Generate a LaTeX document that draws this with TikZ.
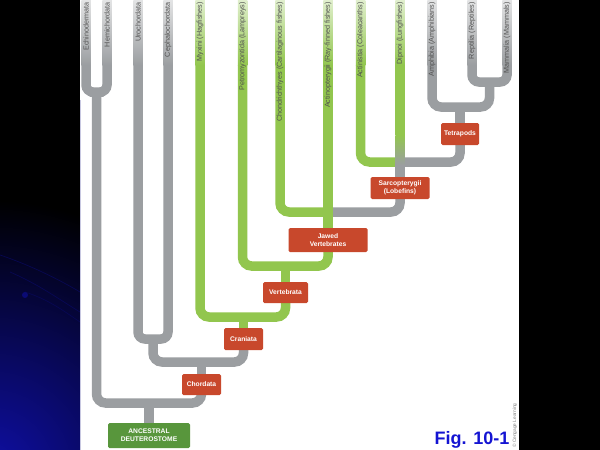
\documentclass[tikz,border=0pt]{standalone}
\usepackage{fontspec}
\setmainfont{Liberation Sans}
\usetikzlibrary{calc}
\pgfdeclarelayer{back}
\pgfdeclarelayer{bg}
\pgfsetlayers{back,bg,main}
\definecolor{barGray}{RGB}{155,158,161}
\definecolor{barGreen}{RGB}{146,198,78}
\definecolor{boxRed}{RGB}{200,72,44}
\definecolor{ancGreen}{RGB}{88,150,60}
\definecolor{labText}{RGB}{80,80,80}
\definecolor{figBlue}{RGB}{20,20,210}
\definecolor{deepBlue}{RGB}{15,15,165}
\definecolor{edgeLav}{RGB}{200,200,225}
\tikzset{
  tip/.style={minimum width=9.5pt, minimum height=65pt, inner sep=0pt, anchor=north, draw=none},
  grayTip/.style={tip, top color=barGray!28!white, bottom color=barGray},
  greenTip/.style={tip, top color=barGreen!28!white, bottom color=barGreen},
  lab/.style={rotate=90, anchor=east, inner sep=0pt, text=labText, font=\fontsize{7.2}{8}\selectfont},
  gbar/.style={draw=barGray, line width=9.5pt, rounded corners=9pt},
  grbar/.style={draw=barGreen, line width=9.5pt, rounded corners=9pt},
  box/.style={fill=boxRed, rounded corners=1.5pt, text=white, align=center, inner sep=0pt,
              font=\bfseries\fontsize{6.7}{8}\selectfont},
}
\begin{document}
\begin{tikzpicture}[x=1pt,y=-1pt]
\useasboundingbox (0,0) rectangle (600,450);
\begin{pgfonlayer}{back}
  \fill[black] (0,0) rectangle (600,450);
  \begin{scope}
    \clip (0,0) rectangle (80,450);
    \shade[inner color=deepBlue, outer color=black] (-10,470) circle (270);
    \draw[deepBlue!60!black, line width=0.7pt, opacity=0.7] (0,255) .. controls (30,265) and (60,280) .. (80,292);
    \draw[deepBlue!60!black, line width=0.7pt, opacity=0.7] (10,272) .. controls (40,285) and (60,300) .. (80,312);
    \draw[deepBlue!60!black, line width=0.7pt, opacity=0.6] (25,292) .. controls (50,300) and (65,312) .. (80,322);
    \fill[deepBlue!70!black] (25,295) circle (3);
  \end{scope}
  \fill[white] (80,0) rectangle (519,450);
  \draw[edgeLav, line width=0.8pt] (80.4,100) -- (80.4,450);
\end{pgfonlayer}

% shaded tips of the terminal branches
\node[grayTip]  (tEchi) at (86,0) {};
\node[grayTip]  (tHemi) at (107,0) {};
\node[grayTip]  (tUro)  at (138,0) {};
\node[grayTip]  (tCeph) at (168,0) {};
\node[greenTip] (tMyx)  at (200,0) {};
\node[greenTip] (tPet)  at (242.5,0) {};
\node[greenTip] (tChon) at (280,0) {};
\node[greenTip] (tActi) at (328,0) {};
\node[greenTip] (tActn) at (360.5,0) {};
\node[greenTip] (tDip)  at (400,0) {};
\node[grayTip]  (tAmph) at (432,0) {};
\node[grayTip]  (tRept) at (472,0) {};
\node[grayTip]  (tMamm) at (507,0) {};

% taxon labels
\node[lab] (lEchi) at (86,2) {Echinodermata};
\node[lab] (lHemi) at (107,2) {Hemichordata};
\node[lab] (lUro)  at (138,2) {Urochordata};
\node[lab] (lCeph) at (168,2) {Cephalochordata};
\node[lab] (lMyx)  at (200,2) {Myxini (Hagfishes)};
\node[lab] (lPet)  at (242.5,2) {Petromyzontida (Lampreys)};
\node[lab] (lChon) at (280,2) {Chondrichthyes (Cartilaginous fishes)};
\node[lab] (lActi) at (328,2) {Actinopterygii (Ray-finned fishes)};
\node[lab] (lActn) at (360.5,2) {Actinistia (Coleacanths)};
\node[lab] (lDip)  at (400,2) {Dipnoi (Lungfishes)};
\node[lab] (lAmph) at (432,2) {Amphibia (Amphibians)};
\node[lab] (lRept) at (472,2) {Reptilia (Reptiles)};
\node[lab] (lMamm) at (507,2) {Mammalia (Mammals)};

% clade boxes
\node[box, fill=ancGreen, minimum width=82pt, minimum height=25pt] (anc) at (149,435.5) {ANCESTRAL\\DEUTEROSTOME};
\node[box, minimum width=39pt, minimum height=21pt] (chord) at (201.5,384.5) {Chordata};
\node[box, minimum width=39pt, minimum height=22pt] (cran)  at (243.5,339) {Craniata};
\node[box, minimum width=45pt, minimum height=21pt] (vert)  at (285.5,292.5) {Vertebrata};
\node[box, minimum width=79pt, minimum height=24pt] (jaw)   at (328,240) {Jawed\\Vertebrates};
\node[box, minimum width=59pt, minimum height=22pt] (sarc)  at (400,188) {Sarcopterygii\\(Lobefins)};
\node[box, minimum width=38pt, minimum height=22pt] (tetra) at (460,134) {Tetrapods};

% junctions
\coordinate (jEH)  at (96.5,92);
\coordinate (jAnc) at (149,403);
\coordinate (jUC)  at (153,339);
\coordinate (jCh)  at (201.5,362);
\coordinate (jCr)  at (243.5,317);
\coordinate (jVe)  at (285.5,266);
\coordinate (jJw)  at (333,212);
\coordinate (jSa)  at (400,162);
\coordinate (dA)   at (400,135);
\coordinate (dB)   at (400,165);
\coordinate (jTe)  at (460,107);
\coordinate (jRM)  at (489.5,82);

\begin{pgfonlayer}{bg}
  % deuterostome base
  \draw[gbar, rounded corners=7pt] (tEchi.south) |- (jEH) -| (tHemi.south);
  \draw[gbar] (jEH) |- (jAnc) -| (chord.south);
  \draw[gbar] (anc.north) -- (jAnc);
  % chordates
  \draw[gbar, rounded corners=7pt] (tUro.south) |- (jUC) -| (tCeph.south);
  \draw[gbar] (jUC) |- (jCh) -| (cran.south);
  \draw[gbar] (chord.north) -- (jCh);
  % craniates / vertebrates
  \draw[grbar] (tMyx.south) |- (jCr) -| (vert.south);
  \draw[grbar] (cran.north) -- (jCr);
  \draw[grbar] (tPet.south) |- (jVe) -| (jaw.south);
  \draw[grbar] (vert.north) -- (jVe);
  % jawed vertebrates
  \draw[grbar] (tActi.south) -- (jaw.north);
  \draw[grbar] (tChon.south) |- (jJw);
  \draw[gbar] (jJw) -| (sarc.south);
  % lobefins
  \draw[grbar] (tActn.south) |- (jSa);
  \draw[gbar] (jSa) -| (tetra.south);
  \draw[grbar, rounded corners=0pt] (tDip.south) -- (dA);
  \shade[top color=barGreen, bottom color=barGray] ($(dA)+(-4.75,0)$) rectangle ($(dB)+(4.75,0)$);
  \draw[gbar] (dB) -- (sarc.north);
  % tetrapods
  \draw[gbar] (tetra.north) -- (jTe);
  \draw[gbar] (tAmph.south) |- (jTe) -| (jRM);
  \draw[gbar, rounded corners=7pt] (tRept.south) |- (jRM) -| (tMamm.south);
\end{pgfonlayer}

\node[anchor=base east, inner sep=0pt, text=figBlue, font=\bfseries\fontsize{18}{20}\selectfont] (fig) at (509.5,444) {Fig. 10-1};
\node[rotate=90, anchor=west, inner sep=0pt, text=gray, font=\fontsize{4.8}{5}\selectfont] (copyr) at (515,448) {© Cengage Learning};
\end{tikzpicture}
\end{document}
